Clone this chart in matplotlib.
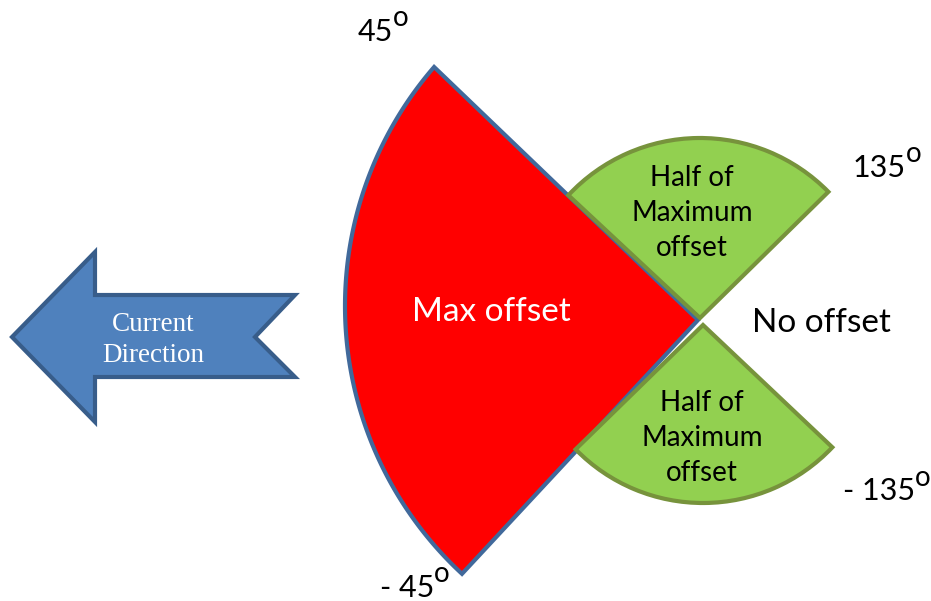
import matplotlib.pyplot as plt
import numpy as np
from matplotlib.patches import Polygon, Wedge

plt.rcParams['font.family'] = ['Lato', 'DejaVu Sans']

# diagram content
direction_label = "Current\nDirection"
max_label = "Max offset"
half_label = "Half of\nMaximum\noffset"
none_label = "No offset"
angle_labels = ["45", "135", "- 135", "- 45"]
red_span = (139.1, 227.2)          # degrees, counter-clockwise, 0 = right
green_spans = [(44.5, 137), (-135.7, -43.4)]

W, H = 931, 601
fig = plt.figure(figsize=(W / 100, H / 100), dpi=100)
ax = fig.add_axes([0, 0, 1, 1])
ax.set_xlim(0, W)
ax.set_ylim(H, 0)
ax.set_aspect('equal')
ax.axis('off')

# red sector (arc centre sits a little off the tip)
a = np.radians(np.linspace(red_span[0], red_span[1], 200))
arc_x = 710 + 365 * np.cos(a)
arc_y = 306 - 365 * np.sin(a)
pts = np.column_stack([np.r_[698, arc_x], np.r_[320, arc_y]])
ax.add_patch(Polygon(pts, closed=True, fc='#FF0000', ec='#41699B', lw=3,
                     joinstyle='miter', zorder=1))

# green sectors (angles negated because y axis points down)
centres = [(700, 318), (703, 325)]
radii = [180, 178]
for (lo, hi), c, r in zip(green_spans, centres, radii):
    ax.add_patch(Wedge(c, r, -hi, -lo, fc='#92D050', ec='#77933C', lw=3,
                       joinstyle='miter', zorder=2))

# arrow
arrow = [(12, 337), (95, 252), (95, 295), (295, 295), (255, 337),
         (295, 377), (95, 377), (95, 422)]
ax.add_patch(Polygon(arrow, closed=True, fc='#4F81BD', ec='#385D8A', lw=3,
                     joinstyle='miter', zorder=1))
ax.text(153, 340, direction_label, color='white', ha='center', va='center',
        fontsize=19.5, family=['Liberation Serif'], linespacing=1.35, zorder=3)

ax.text(491, 312, max_label, color='white', ha='center', va='center',
        fontsize=24, zorder=3)
ax.text(821, 323, none_label, color='black', ha='center', va='center',
        fontsize=24, zorder=3)
ax.text(692, 213, half_label, color='black', ha='center', va='center',
        fontsize=20, linespacing=1.45, zorder=3)
ax.text(702, 438, half_label, color='black', ha='center', va='center',
        fontsize=20, linespacing=1.45, zorder=3)

# angle labels with raised "o"
angle_pos = [(358, 41), (853, 177), (843, 500), (380, 597)]
for lab, (x, y) in zip(angle_labels, angle_pos):
    t = ax.text(x, y, lab, color='black', ha='left', va='baseline',
                fontsize=22, zorder=3)
    ax.annotate('o', xy=(1, 1), xycoords=t, xytext=(-0.5, 9),
                textcoords='offset points', ha='left', va='top',
                fontsize=20, color='black')

fig.savefig('out.png', dpi=100)
